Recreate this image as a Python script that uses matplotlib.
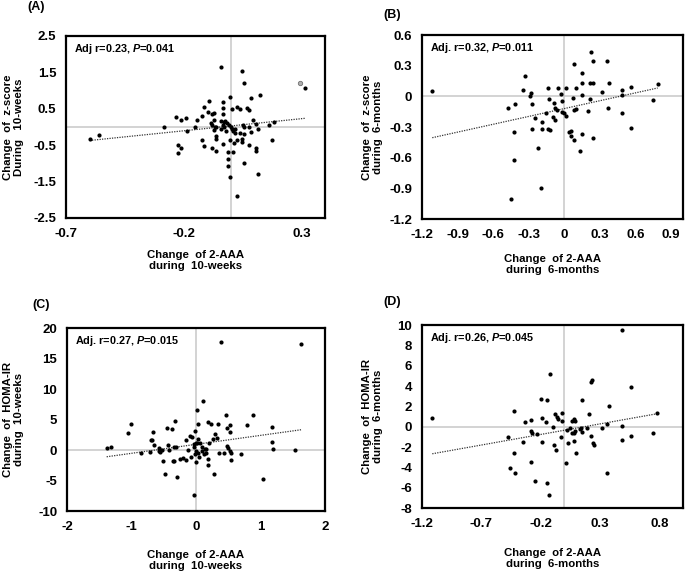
import numpy as np
import matplotlib
matplotlib.use("Agg")
import matplotlib.pyplot as plt

# 字体设置 (Arial 风格粗体)
plt.rcParams['font.family'] = ['Liberation Sans', 'DejaVu Sans']
plt.rcParams['font.weight'] = 'bold'
plt.rcParams['mathtext.fontset'] = 'custom'
plt.rcParams['mathtext.it'] = 'Liberation Sans:italic:bold'
plt.rcParams['mathtext.rm'] = 'Liberation Sans:bold'

# ---- (A) 10-weeks: 2-AAA vs z-score ----
a_x = [-0.60, -0.56, -0.283, -0.233, -0.212, -0.192, -0.223, -0.212, -0.223, -0.184,
       -0.153, -0.144, -0.124, -0.112, -0.092, -0.099, -0.082, -0.073, -0.085, -0.082,
       -0.071, -0.068, -0.073, -0.062, -0.042, -0.032, -0.032, -0.032, -0.042, -0.028,
       -0.035, -0.023, -0.017, -0.028, -0.042, -0.020, -0.064, -0.064, -0.124, -0.112,
       -0.082, -0.064, -0.032, -0.004, 0.006, -0.006, 0.000, 0.006, 0.008, 0.017,
       0.017, -0.004, 0.014, 0.028, 0.028, 0.040, 0.048, 0.057, 0.068, 0.077,
       0.085, 0.125, 0.051, 0.057, 0.037, 0.057, 0.048, 0.048, 0.078, 0.085,
       0.096, 0.105, 0.116, 0.077, 0.105, 0.105, -0.014, 0.008, -0.014, -0.014,
       -0.003, 0.054, 0.116, 0.028, 0.164, 0.184, 0.177, 0.317]
a_y = [-0.33, -0.21, 0.01, 0.26, 0.19, 0.25, -0.50, -0.57, -0.71, -0.10,
       -0.01, 0.19, 0.30, 0.54, 0.70, 0.41, 0.36, 0.37, 0.10, 0.05,
       0.19, -0.01, -0.08, -0.01, 1.65, 0.68, 0.52, 0.36, 0.17, 0.13,
       0.06, 0.16, 0.10, -0.01, -0.05, -0.10, -0.25, -0.33, -0.36, -0.52,
       -0.57, -0.65, -0.47, 0.83, 0.49, 0.05, -0.01, -0.05, -0.10, -0.05,
       -0.16, -0.36, -0.44, -0.36, 0.54, 0.48, 1.54, 1.20, 0.51, 0.47,
       0.79, 0.89, 0.05, -0.01, -0.16, -0.19, -0.34, -0.41, -0.01, -0.15,
       0.19, 0.08, -0.05, -0.49, -0.57, -0.67, -0.70, -0.68, -0.87, -1.06,
       -1.38, -0.99, -1.30, -1.91, 0.04, 0.13, -0.37, 1.06]
a_grey_x = [0.294]
a_grey_y = [1.20]
a_trend = [0.666, 0.027]
a_xticks = [-0.7, -0.2, 0.3]
a_xlabels = ['-0.7', '-0.2', '0.3']
a_yticks = [-2.5, -1.5, -0.5, 0.5, 1.5, 2.5]
a_ylabels = ['-2.5', '-1.5', '-0.5', '0.5', '1.5', '2.5']

# ---- (B) 6-months: 2-AAA vs z-score ----
b_x = [-1.113, -0.478, -0.416, -0.427, -0.422, -0.452, -0.349, -0.332, -0.287, -0.278,
       -0.273, -0.273, -0.245, -0.222, -0.191, -0.188, -0.194, -0.152, -0.141, -0.129,
       -0.135, -0.118, -0.090, -0.093, -0.076, -0.076, -0.062, -0.056, -0.025, -0.017,
       -0.022, -0.006, 0.011, 0.017, 0.073, 0.084, 0.096, 0.084, 0.096, 0.146,
       0.146, 0.146, 0.039, 0.059, 0.053, 0.084, 0.135, 0.152, 0.197, 0.214,
       0.219, 0.242, 0.225, 0.239, 0.242, 0.315, 0.360, 0.374, 0.365, 0.486,
       0.486, 0.486, 0.559, 0.559, 0.745, 0.787]
b_y = [0.056, -0.11, -0.07, -0.35, -0.62, -1.00, 0.06, 0.20, 0.007, 0.036,
       -0.07, -0.32, -0.21, -0.50, -0.25, -0.32, -0.90, -0.16, 0.08, -0.03,
       -0.32, -0.33, -0.06, -0.20, -0.11, -0.23, -0.13, 0.08, 0.026, -0.046,
       -0.15, -0.16, 0.085, -0.19, -0.013, -0.13, -0.12, 0.32, 0.085, 0.23,
       0.13, 0.016, -0.35, -0.335, -0.39, -0.43, -0.53, -0.37, -0.145, -0.03,
       0.135, 0.13, 0.437, 0.35, -0.41, 0.04, 0.345, 0.135, -0.11, 0.066,
       0.016, -0.165, 0.092, -0.31, -0.033, 0.12]
b_trend = [0.256, -0.119]
b_xticks = [-1.2, -0.9, -0.6, -0.3, 0, 0.3, 0.6, 0.9]
b_xlabels = ['-1.2', '-0.9', '-0.6', '-0.3', '0', '0.3', '0.6', '0.9']
b_yticks = [-1.2, -0.9, -0.6, -0.3, 0, 0.3, 0.6]
b_ylabels = ['-1.2', '-0.9', '-0.6', '-0.3', '0', '0.3', '0.6']

# ---- (C) 10-weeks: 2-AAA vs HOMA-IR ----
c_x = [-1.385, -1.31, -1.05, -1.0, -0.856, -0.713, -0.70, -0.68, -0.66, -0.65,
       -0.58, -0.57, -0.56, -0.53, -0.51, -0.48, -0.45, -0.43, -0.415, -0.374,
       -0.364, -0.344, -0.323, -0.344, -0.313, -0.30, -0.25, -0.20, -0.15, -0.15,
       -0.128, -0.077, -0.087, -0.056, -0.036, -0.026, -0.015, -0.005, 0.005, 0.015,
       -0.015, -0.005, -0.026, 0.015, 0.026, 0.036, 0.036, 0.046, 0.067, 0.087,
       0.108, 0.097, 0.118, 0.138, 0.149, 0.159, 0.18, 0.19, 0.20, 0.19,
       0.24, 0.28, 0.26, 0.30, 0.34, 0.33, 0.36, 0.395, 0.436, 0.467,
       0.487, 0.497, 0.487, 0.528, 0.528, 0.528, 0.538, 0.549, 0.692, 0.785,
       0.887, 1.04, 1.174, 1.174, 1.20, 1.533, 1.636]
c_y = [0.33, 0.55, 2.85, 4.2, -0.55, -0.38, 1.6, 1.6, 2.95, 0.88,
       0.33, -0.1, -0.27, 0.0, -1.86, -3.9, 3.7, 0.88, 0.0, 3.4,
       -1.86, -1.75, 4.7, 0.55, 0.55, -4.5, -1.5, -1.3, 1.64, -1.64,
       0.0, -1.1, 2.3, 2.08, 0.99, 0.55, 3.2, 1.1, -0.22, 1.2,
       -0.66, -1.97, -7.33, 6.57, 1.8, 4.27, -0.55, -1.2, 1.2, 0.55,
       8.0, -0.1, -0.66, 0.1, 0.22, -0.55, -1.42, 4.6, 1.2, -2.4,
       4.3, -3.9, 1.75, 2.6, 4.27, 1.97, -0.44, 17.7, -0.44, 5.8,
       0.66, 0.33, 3.6, 4.05, 2.96, -0.1, -1.64, -0.44, -0.66, 4.05,
       5.7, -4.76, 3.83, 1.26, 0.16, 0.0, 17.4]
c_trend = [1.47, 0.935]
c_xticks = [-2, -1, 0, 1, 2]
c_xlabels = ['-2', '-1', '0', '1', '2']
c_yticks = [-10, -5, 0, 5, 10, 15, 20]
c_ylabels = ['-10', '-5', '0', '5', '10', '15', '20']

# ---- (D) 6-months: 2-AAA vs HOMA-IR ----
d_x = [-1.113, -0.478, -0.427, -0.422, -0.455, -0.416, -0.349, -0.332, -0.281, -0.281,
       -0.275, -0.284, -0.245, -0.230, -0.194, -0.191, -0.188, -0.155, -0.149, -0.146,
       -0.129, -0.118, -0.096, -0.090, -0.076, -0.073, -0.062, -0.056, -0.025, -0.017,
       -0.017, 0.011, 0.020, 0.034, 0.051, 0.065, 0.067, 0.079, 0.084, 0.090,
       0.090, 0.084, 0.096, 0.129, 0.141, 0.146, 0.152, 0.191, 0.208, 0.225,
       0.230, 0.225, 0.239, 0.247, 0.315, 0.360, 0.374, 0.360, 0.486, 0.486,
       0.486, 0.559, 0.559, 0.745, 0.781]
d_y = [0.85, -1.02, 1.51, -2.63, -4.04, -4.53, -1.51, 0.46, 0.66, -0.43,
       -0.59, -3.48, -5.39, -0.76, 2.76, 0.85, -1.48, 0.46, -5.58, 2.63,
       -6.70, 5.22, 0.0, -1.84, 1.25, -2.30, 0.92, 0.79, -1.05, 1.38,
       0.53, -3.55, -0.33, -1.64, -0.10, -0.59, 0.53, 0.79, -0.59, 0.59,
       -0.39, -1.45, -2.63, -0.20, -0.13, 2.63, -0.53, -0.13, 1.28, 4.40,
       4.57, -0.92, -1.58, -1.84, -0.10, 0.26, 2.04, -4.53, 9.53, 0.10,
       -1.35, 3.88, -0.92, -0.62, 1.35]
d_trend = [2.08, -0.345]
d_xticks = [-1.2, -0.7, -0.2, 0.3, 0.8]
d_xlabels = ['-1.2', '-0.7', '-0.2', '0.3', '0.8']
d_yticks = [-8, -6, -4, -2, 0, 2, 4, 6, 8, 10]
d_ylabels = ['-8', '-6', '-4', '-2', '0', '2', '4', '6', '8', '10']


def draw_panel(ax, x, y, trend, xlim, ylim, xticks, xlabels, yticks, ylabels,
               note, xlabel, ylabel, ylab_x, xlab_y):
    ax.axhline(0, color='#c8c8c8', lw=1.1, zorder=1)
    ax.axvline(0, color='#c8c8c8', lw=1.1, zorder=1)
    ax.scatter(x, y, s=9, color='black', zorder=3, linewidths=0)
    xs = np.array([min(x), max(x)])
    ax.plot(xs, trend[0] * xs + trend[1], ls=(0, (1, 1)), color='#333333', lw=0.9, zorder=2)
    ax.set_xlim(xlim)
    ax.set_ylim(ylim)
    ax.set_xticks(xticks)
    ax.set_xticklabels(xlabels)
    ax.set_yticks(yticks)
    ax.set_yticklabels(ylabels)
    ax.tick_params(length=0, labelsize=9.5, pad=7)
    for s in ax.spines.values():
        s.set_linewidth(1.6)
        s.set_color('black')
    ax.text(0.03, 0.93, note, transform=ax.transAxes, fontsize=7.8,
            fontweight='bold', va='center', ha='left')
    ax.set_xlabel(xlabel, fontsize=8.2, fontweight='bold', linespacing=1.12)
    ax.set_ylabel(ylabel, fontsize=8.2, fontweight='bold', linespacing=1.12)
    ax.yaxis.set_label_coords(ylab_x, 0.5)
    ax.xaxis.set_label_coords(0.5, xlab_y)


fig = plt.figure(figsize=(6.85, 5.75), dpi=100)
ax_a = fig.add_axes([0.0964, 0.621, 0.378, 0.3165])
ax_b = fig.add_axes([0.616, 0.619, 0.381, 0.320])
ax_c = fig.add_axes([0.0978, 0.1113, 0.3766, 0.318])
ax_d = fig.add_axes([0.616, 0.1165, 0.381, 0.318])

draw_panel(ax_a, a_x, a_y, a_trend, (-0.7, 0.4), (-2.5, 2.5), a_xticks, a_xlabels,
           a_yticks, a_ylabels, r'Adj r=0.23, $P$=0.041',
           'Change  of 2-AAA\nduring  10-weeks', 'Change  of  z-score\nDuring   10-weeks',
           -0.162, -0.176)
ax_a.scatter(a_grey_x, a_grey_y, s=10, facecolor='#b0b0b0', edgecolor='#707070',
             linewidths=0.6, zorder=3)

draw_panel(ax_b, b_x, b_y, b_trend, (-1.2, 1.0), (-1.2, 0.6), b_xticks, b_xlabels,
           b_yticks, b_ylabels, r'Adj. r=0.32, $P$=0.011',
           'Change  of 2-AAA\nduring  6-months', 'Change  of  z-score\nduring  6-months',
           -0.15, -0.19)

draw_panel(ax_c, c_x, c_y, c_trend, (-2, 2), (-10, 20), c_xticks, c_xlabels,
           c_yticks, c_ylabels, r'Adj. r=0.27, $P$=0.015',
           'Change  of 2-AAA\nduring  10-weeks', 'Change  of  HOMA-IR\nduring  10-weeks',
           -0.167, -0.213)

draw_panel(ax_d, d_x, d_y, d_trend, (-1.2, 1.0), (-8, 10), d_xticks, d_xlabels,
           d_yticks, d_ylabels, r'Adj. r=0.26, $P$=0.045',
           'Change  of 2-AAA\nduring  6-months', 'Change  of  HOMA-IR\nduring  6-months',
           -0.15, -0.22)

# 子图标签
fig.text(27 / 685, 1 - 7 / 575, '(A)', fontsize=9, fontweight='bold', va='center')
fig.text(383 / 685, 1 - 15 / 575, '(B)', fontsize=9, fontweight='bold', va='center')
fig.text(32 / 685, 1 - 305 / 575, '(C)', fontsize=9, fontweight='bold', va='center')
fig.text(383 / 685, 1 - 302 / 575, '(D)', fontsize=9, fontweight='bold', va='center')

fig.savefig('out.png', dpi=100)
